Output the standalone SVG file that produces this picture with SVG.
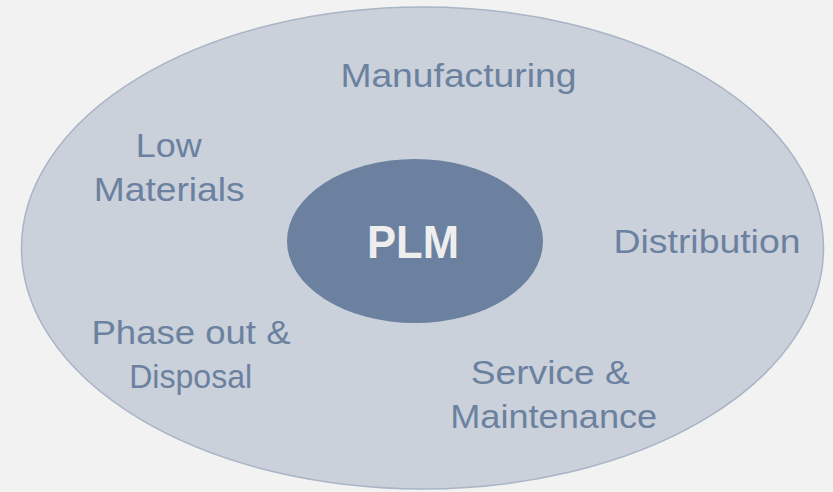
<svg xmlns="http://www.w3.org/2000/svg" width="833" height="492" viewBox="0 0 833 492">
<style>
.lbl{font-family:"Liberation Sans",Arial,sans-serif;font-size:34px;fill:#6b819f;text-anchor:middle}
.core{font-family:"Liberation Sans",Arial,sans-serif;font-size:46px;font-weight:bold;fill:#eeeeee;text-anchor:middle}
</style>
<rect width="833" height="492" fill="#f2f2f2"/>
<g id="lifecycle">
<ellipse cx="422.5" cy="248" rx="401" ry="241" fill="#cad1db" stroke="#a9b4c5" stroke-width="1.5"/>
<text class="lbl" x="458.4" y="86.7" textLength="236" lengthAdjust="spacingAndGlyphs">Manufacturing</text>
<text class="lbl" x="168.7" y="156.7" textLength="66" lengthAdjust="spacingAndGlyphs">Low</text>
<text class="lbl" x="169.2" y="201" textLength="151" lengthAdjust="spacingAndGlyphs">Materials</text>
<text class="lbl" x="707" y="252.7" textLength="187" lengthAdjust="spacingAndGlyphs">Distribution</text>
<text class="lbl" x="191" y="344.3" textLength="199" lengthAdjust="spacingAndGlyphs">Phase out &amp;</text>
<text class="lbl" x="190.7" y="388.3" textLength="123" lengthAdjust="spacingAndGlyphs">Disposal</text>
<text class="lbl" x="550.3" y="384" textLength="159" lengthAdjust="spacingAndGlyphs">Service &amp;</text>
<text class="lbl" x="553.7" y="428.3" textLength="207" lengthAdjust="spacingAndGlyphs">Maintenance</text>
</g>
<g id="plm">
<ellipse cx="415" cy="241" rx="128" ry="82" fill="#6b819f"/>
<text class="core" x="413" y="258.3" textLength="92" lengthAdjust="spacingAndGlyphs">PLM</text>
</g>
<g id="connectors"/>
</svg>
